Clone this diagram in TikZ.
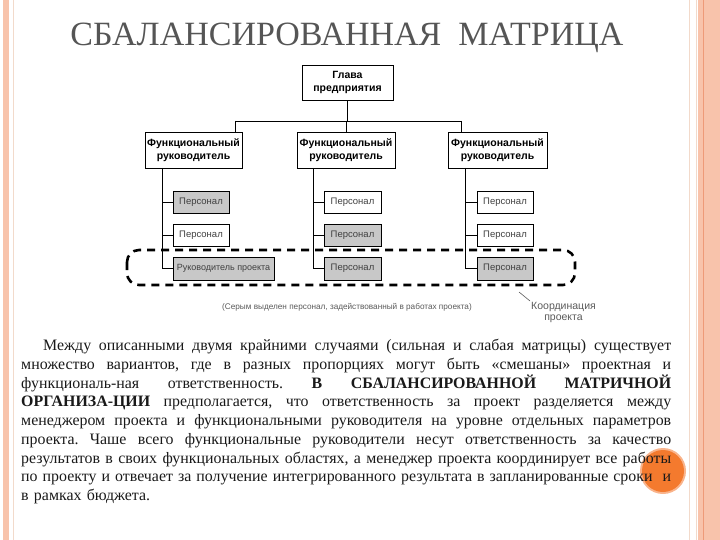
\documentclass[tikz,border=0pt]{standalone}
\usepackage{fontspec}
\setmainfont{Liberation Serif}
\setsansfont{Liberation Sans}
\usepackage{xcolor}
\usepackage{tikz}
\usetikzlibrary{positioning, calc}

\definecolor{stripe}{HTML}{F8C3AB}
\definecolor{stripedark}{HTML}{EE9A78}
\definecolor{faint}{HTML}{F2DACB}
\definecolor{titlegray}{HTML}{555555}
\definecolor{boxgray}{HTML}{C8C8C8}
\definecolor{notegray}{HTML}{5A5A5A}
\definecolor{dotorange}{HTML}{F47A2E}
\definecolor{dothalo}{HTML}{F9B48C}

% one justified line of the paragraph
\newcommand{\fullline}[2][650pt]{\leavevmode\hbox to #1{\frenchspacing\spaceskip=0.25em plus 1fil minus 0.08em\relax #2}}

\begin{document}
\begin{tikzpicture}[x=1pt, y=-1pt,
    chief/.style={draw, line width=0.9pt, align=center, inner sep=1pt,
      font=\sffamily\bfseries\fontsize{10.5}{12.5}\selectfont},
    staff/.style={draw, line width=0.9pt, inner sep=0pt, minimum width=56pt,
      minimum height=22pt, text=black!75, font=\sffamily\fontsize{9.5}{11}\selectfont},
    shaded/.style={fill=boxgray},
    branch/.style={line width=0.7pt},
    note/.style={text=notegray, inner sep=1pt, font=\sffamily\fontsize{8.2}{9.5}\selectfont},
    body/.style={text=black!90, inner sep=0pt, text width=650pt, align=left,
      font=\fontsize{15.9}{18.75}\selectfont}]
  \useasboundingbox (0,0) rectangle (720,540);

  % page frame
  \fill[stripe] (3,0) rectangle (9,540);
  \draw[faint, line width=0.8pt] (13,0) -- (13,540);
  \draw[faint, line width=1pt] (689.5,0) -- (689.5,540);
  \draw[faint, line width=1pt] (696.5,0) -- (696.5,540);
  \fill[stripe] (698,0) rectangle (720,540);
  \draw[stripedark, line width=1pt] (703,0) -- (703,540);

  % title
  \node[anchor=base, text=titlegray, font=\fontsize{34}{36}\selectfont] (title) at (347,46)
    {СБАЛАНСИРОВАННАЯ\ \ МАТРИЦА};

  % head and functional managers
  \node[chief, minimum width=91pt, minimum height=35pt] (head) at (347.5,82.5) {Глава\\предприятия};
  \node[chief, minimum width=97pt, minimum height=36pt] (fl) at (193.5,150) {Функциональный\\руководитель};
  \node[chief, minimum width=98pt, minimum height=36pt] (fm) at (346,150) {Функциональный\\руководитель};
  \node[chief, minimum width=99pt, minimum height=36pt] (fr) at (497.5,150) {Функциональный\\руководитель};

  \coordinate (busL) at (235,121);
  \coordinate (busR) at (461,121);
  \draw[branch] (head) -- (head |- busL);
  \draw[branch] (busL) -- (busR);
  \draw[branch] (busL) -- (busL |- fl.north);
  \draw[branch] (fm |- busL) -- (fm);
  \draw[branch] (busR) -- (busR |- fr.north);

  % staff
  \node[staff, shaded] (pl1) at (201,202) {Персонал};
  \node[staff] (pl2) at (201,235) {Персонал};
  \node[staff, shaded, minimum width=101pt, minimum height=23pt,
    font=\sffamily\fontsize{9}{11}\selectfont] (pl3) at (223.5,268.5) {Руководитель проекта};
  \node[staff, minimum width=57pt] (pm1) at (352.5,202) {Персонал};
  \node[staff, shaded, minimum width=57pt] (pm2) at (352.5,235) {Персонал};
  \node[staff, shaded, minimum width=57pt, minimum height=23pt] (pm3) at (352.5,268.5) {Персонал};
  \node[staff] (pr1) at (505,202) {Персонал};
  \node[staff] (pr2) at (505,235) {Персонал};
  \node[staff, shaded, minimum height=23pt] (pr3) at (505,268.5) {Персонал};

  \coordinate (tl) at (162,168);
  \coordinate (tm) at (313,168);
  \coordinate (tr) at (465,168);
  \foreach \t/\a/\b/\c in {tl/pl1/pl2/pl3, tm/pm1/pm2/pm3, tr/pr1/pr2/pr3} {
    \draw[branch] (\t) -- (\t |- \c.west);
    \foreach \s in {\a, \b, \c}
      \draw[branch] (\t |- \s.west) -- (\s.west);
  }

  % coordination ring
  \draw[line width=2.6pt, dash pattern=on 8pt off 6pt, rounded corners=12pt]
    (127,250) rectangle (575,285);
  \node[note] (legend) at (347,307) {(Серым выделен персонал, задействованный в работах проекта)};
  \coordinate (coordtip) at (519,292);
  \node[note, align=center, font=\sffamily\fontsize{10.5}{11.5}\selectfont,
    below right=9pt and 11pt of coordtip, anchor=north west] (coordlbl) {Координация\\проекта};
  \draw[line width=0.6pt, notegray] (coordtip) -- (coordlbl.north west);

  % orange dot behind the text
  \fill[dothalo] (663,471) circle (23pt);
  \fill[dotorange] (663,471) circle (21pt);

  % text
  \node[body, anchor=north west] (para) at (21,339) {%
    \hspace*{22pt}\fullline[628pt]{Между описанными двумя крайними случаями (сильная и слабая матрицы) существует}\\
    \fullline{множество вариантов, где в разных пропорциях могут быть «смешаны» проектная и}\\
    \fullline{функциональ-ная ответственность. \textbf{В СБАЛАНСИРОВАННОЙ МАТРИЧНОЙ}}\\
    \fullline{\textbf{ОРГАНИЗА-ЦИИ} предполагается, что ответственность за проект разделяется между}\\
    \fullline{менеджером проекта и функциональными руководителя на уровне отдельных параметров}\\
    \fullline{проекта. Чаше всего функциональные руководители несут ответственность за качество}\\
    \fullline{результатов в своих функциональных областях, а менеджер проекта координирует все работы}\\
    \fullline{по проекту и отвечает за получение интегрированного результата в запланированные сроки\ \ и}\\
    в рамках бюджета.};
\end{tikzpicture}
\end{document}
